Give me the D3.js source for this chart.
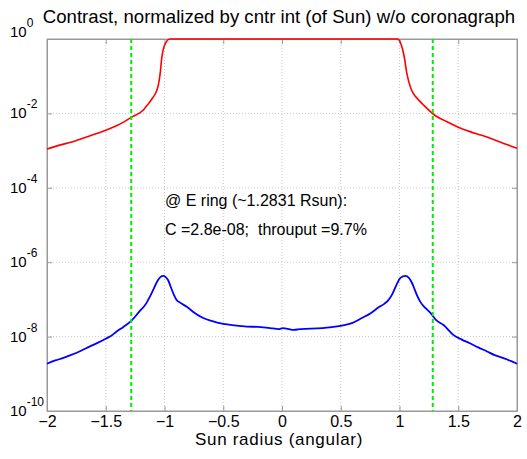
<!DOCTYPE html>
<html>
<head>
<meta charset="utf-8">
<script src="https://cdn.jsdelivr.net/npm/d3@7"></script>
<style>
  body { margin: 0; background: #fff; }
  text { font-family: "Liberation Sans", Arial, sans-serif; fill: #000; }
</style>
</head>
<body>
<div id="chart"></div>
<script>
// setting up constants
const FRAME_WIDTH = 527;
const FRAME_HEIGHT = 459;
const MARGINS = {left: 47, right: 10, top: 39, bottom: 48};
const VIS_WIDTH = FRAME_WIDTH - MARGINS.left - MARGINS.right;
const VIS_HEIGHT = FRAME_HEIGHT - MARGINS.top - MARGINS.bottom;

// data (y as log10 of contrast)
const xTicks = [-2, -1.5, -1, -0.5, 0, 0.5, 1, 1.5, 2];
const yTickExp = [0, -2, -4, -6, -8, -10];
const ringX = [-1.2831, 1.2831];

const redX = [-2, -1.9, -1.78, -1.65, -1.5, -1.4, -1.28, -1.18, -1.15, -1.1, -1.07, -1.05,
  -1.034, -1.026, -1.012, -0.983, -0.955, 0, 0.983, 1.011, 1.04, 1.062, 1.097, 1.125, 1.154,
  1.2, 1.3, 1.4, 1.5, 1.6, 1.7, 1.8, 1.9, 2];
const redLog = [-2.96, -2.86, -2.76, -2.62, -2.45, -2.32, -2.10, -1.91, -1.79, -1.58, -1.42, -1.20,
  -0.85, -0.58, -0.30, -0.07, 0, 0, 0, -0.12, -0.47, -0.92, -1.33, -1.50, -1.61,
  -1.76, -2.05, -2.22, -2.37, -2.49, -2.59, -2.70, -2.82, -2.94];

const blueX = [-2, -1.93, -1.866, -1.8, -1.724, -1.638, -1.57, -1.496, -1.45, -1.41, -1.35, -1.283,
  -1.22, -1.154, -1.125, -1.097, -1.075, -1.055, -1.035, -1.012, -0.99, -0.97, -0.945, -0.92,
  -0.9, -0.86, -0.81, -0.74, -0.67, -0.6, -0.5, -0.4, -0.3, -0.2, -0.16, -0.08, -0.03,
  0.01, 0.05, 0.1, 0.15, 0.2, 0.3, 0.4, 0.53, 0.6, 0.68, 0.755, 0.82, 0.87, 0.9, 0.94,
  0.98, 1.0, 1.03, 1.05, 1.08, 1.1, 1.12, 1.15, 1.18, 1.22, 1.265, 1.31, 1.375, 1.46,
  1.53, 1.6, 1.67, 1.745, 1.81, 1.885, 1.95, 2];
const blueLog = [-8.73, -8.64, -8.58, -8.50, -8.40, -8.27, -8.17, -8.05, -7.97, -7.87, -7.74, -7.58,
  -7.35, -7.10, -6.93, -6.75, -6.60, -6.48, -6.40, -6.37, -6.40, -6.48, -6.68, -6.88,
  -7.00, -7.10, -7.20, -7.37, -7.50, -7.58, -7.66, -7.70, -7.73, -7.74, -7.75, -7.78, -7.80,
  -7.77, -7.79, -7.82, -7.80, -7.79, -7.78, -7.75, -7.69, -7.63, -7.50, -7.37, -7.22, -7.12, -7.04, -6.85,
  -6.57, -6.45, -6.38, -6.37, -6.42, -6.52, -6.66, -6.90, -7.08, -7.23, -7.37, -7.55, -7.69, -7.96,
  -8.08, -8.18, -8.29, -8.40, -8.50, -8.58, -8.66, -8.73];

const svg = d3.select('#chart')
  .append('svg')
    .attr('width', FRAME_WIDTH)
    .attr('height', FRAME_HEIGHT);

const FRAME = svg.append('g')
  .attr('transform', 'translate(' + MARGINS.left + ',' + MARGINS.top + ')');

const xScale = d3.scaleLinear().domain([-2, 2]).range([0, VIS_WIDTH]);
const yScale = d3.scaleLog().domain([1e-10, 1]).range([VIS_HEIGHT, 0]);

// dotted grid
FRAME.append('g').selectAll('line')
  .data(xTicks.slice(1, -1))
  .enter().append('line')
    .attr('x1', d => xScale(d)).attr('x2', d => xScale(d))
    .attr('y1', 0).attr('y2', VIS_HEIGHT)
    .attr('stroke', '#c8c8c8').attr('stroke-dasharray', '1,2');
FRAME.append('g').selectAll('line')
  .data(yTickExp.slice(1, -1))
  .enter().append('line')
    .attr('x1', 0).attr('x2', VIS_WIDTH)
    .attr('y1', d => yScale(Math.pow(10, d))).attr('y2', d => yScale(Math.pow(10, d)))
    .attr('stroke', '#c8c8c8').attr('stroke-dasharray', '1,2');

// axes: inward ticks on all four sides
const yVals = yTickExp.map(d => Math.pow(10, d));
FRAME.append('g').attr('class', 'ax')
  .attr('transform', 'translate(0,' + VIS_HEIGHT + ')')
  .call(d3.axisBottom(xScale).tickValues(xTicks).tickSizeInner(-5).tickSizeOuter(0).tickPadding(5)
    .tickFormat(d3.format('')));
FRAME.append('g').attr('class', 'ax')
  .call(d3.axisTop(xScale).tickValues(xTicks).tickSizeInner(-5).tickSizeOuter(0).tickFormat(''));
FRAME.append('g').attr('class', 'ax')
  .call(d3.axisLeft(yScale).tickValues(yVals).tickSizeInner(-5).tickSizeOuter(0).tickFormat(''));
FRAME.append('g').attr('class', 'ax')
  .attr('transform', 'translate(' + VIS_WIDTH + ',0)')
  .call(d3.axisRight(yScale).tickValues(yVals).tickSizeInner(-5).tickSizeOuter(0).tickFormat(''));

FRAME.selectAll('.ax .domain').attr('stroke', '#999');
FRAME.selectAll('.ax .tick line').attr('stroke', '#999');
FRAME.selectAll('.ax text').style('font-size', '16px').attr('font-family', null);

FRAME.append('rect')
  .attr('width', VIS_WIDTH).attr('height', VIS_HEIGHT)
  .attr('fill', 'none').attr('stroke', '#999');

// y labels as 10 with superscript
const yLab = svg.append('g').selectAll('text')
  .data(yTickExp)
  .enter().append('text')
    .attr('x', 10)
    .attr('y', d => MARGINS.top + yScale(Math.pow(10, d)) + (d === 0 ? -2 : 5))
    .style('font-size', '15px');
yLab.append('tspan').text('10');
yLab.append('tspan').attr('dy', -10).style('font-size', '12px').text(d => d);

// curves
const line = d3.line()
  .x(d => xScale(d[0]))
  .y(d => yScale(Math.pow(10, d[1])))
  .curve(d3.curveMonotoneX);

FRAME.append('path')
  .datum(redX.map((x, i) => [x, redLog[i]]))
  .attr('d', line)
  .attr('fill', 'none').attr('stroke', '#ff0000').attr('stroke-width', 1.6);

FRAME.append('path')
  .datum(blueX.map((x, i) => [x, blueLog[i]]))
  .attr('d', line)
  .attr('fill', 'none').attr('stroke', '#0000ff').attr('stroke-width', 1.8);

// ring position markers
FRAME.append('g').selectAll('line')
  .data(ringX)
  .enter().append('line')
    .attr('x1', d => xScale(d)).attr('x2', d => xScale(d))
    .attr('y1', 0).attr('y2', VIS_HEIGHT)
    .attr('stroke', '#00ee00').attr('stroke-width', 2).attr('stroke-dasharray', '4,3');

// annotation
svg.append('text').attr('x', 165).attr('y', 206).style('font-size', '16px')
  .text('@ E ring (~1.2831 Rsun):');
svg.append('text').attr('x', 165).attr('y', 235).style('font-size', '16px')
  .text('C =2.8e-08;  throuput =9.7%').attr('xml:space', 'preserve').style('white-space', 'pre');

// title and x label
svg.append('text')
  .attr('x', MARGINS.left + VIS_WIDTH / 2 - 3).attr('y', 23)
  .attr('text-anchor', 'middle').style('font-size', '18.6px')
  .text('Contrast, normalized by cntr int (of Sun) w/o coronagraph');

svg.append('text')
  .attr('x', MARGINS.left + VIS_WIDTH / 2 - 3).attr('y', 445)
  .attr('text-anchor', 'middle').style('font-size', '17px').style('letter-spacing', '0.7px')
  .text('Sun radius (angular)');
</script>
</body>
</html>
